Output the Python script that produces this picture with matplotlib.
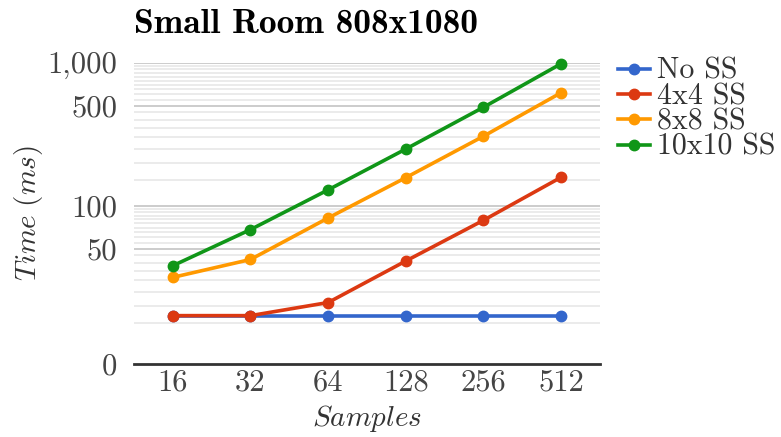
import matplotlib
matplotlib.use("Agg")
import matplotlib.pyplot as plt
from matplotlib.ticker import FixedLocator, FixedFormatter, NullFormatter

plt.rcParams['mathtext.fontset'] = 'cm'
plt.rcParams['font.family'] = ['cmr10', 'DejaVu Sans']
plt.rcParams['axes.formatter.use_mathtext'] = True

categories = ["16", "32", "64", "128", "256", "512"]
series_names = ["No SS", "4x4 SS", "8x8 SS", "10x10 SS"]
no_ss = [17, 17, 17, 17, 17, 17]
ss_4x4 = [17, 17, 21, 41, 79, 158]
ss_8x8 = [31.5, 42, 82, 157, 306, 617]
ss_10x10 = [38, 68, 129, 249, 488, 984]
colors = ["#3366cc", "#dc3912", "#ff9900", "#109618"]

y_bottom = 7.8
y_top = 1000
major_ticks = [50, 100, 500, 1000]
major_labels = ["50", "100", "500", "1,000"]
minor_ticks = ([15, 20, 25, 30, 35, 40, 45] + list(range(55, 100, 5))
               + list(range(150, 500, 50)) + list(range(550, 1000, 50)))

fig = plt.figure(figsize=(7.81, 4.37), dpi=100)
ax = fig.add_axes([134/781, 1 - 364/437, (600-134)/781, (364-62.7)/437])

x = list(range(len(categories)))
for vals, name, c in zip([no_ss, ss_4x4, ss_8x8, ss_10x10], series_names, colors):
    ax.plot(x, vals, color=c, lw=2.6, marker='o', ms=7.5, label=name,
            clip_on=False, zorder=3)

ax.set_yscale('log')
ax.set_ylim(y_bottom, y_top)
ax.set_xlim(-0.5, len(categories) - 0.5)

ax.yaxis.set_major_locator(FixedLocator([y_bottom] + major_ticks))
ax.yaxis.set_major_formatter(FixedFormatter(["0"] + major_labels))
ax.yaxis.set_minor_locator(FixedLocator(minor_ticks))
ax.yaxis.set_minor_formatter(NullFormatter())

ax.set_xticks(x)
ax.set_xticklabels(categories)

for t in major_ticks:
    ax.axhline(t, color="#cccccc", lw=1.4, zorder=1)
for t in minor_ticks:
    ax.axhline(t, color="#ebebeb", lw=1.4, zorder=0.9)

for s in ['left', 'right', 'top']:
    ax.spines[s].set_visible(False)
ax.spines['bottom'].set_color('#333333')
ax.spines['bottom'].set_linewidth(2)
ax.tick_params(axis='both', which='both', length=0, colors='#444444', labelsize=22)
ax.tick_params(axis='y', pad=12)
ax.tick_params(axis='x', pad=4)

ax.set_title("Small Room 808x1080", family='cmb10', fontsize=25.5, loc='left',
             x=0.0, y=1.07, color='#000000')
ax.set_ylabel(r"$Time\ (ms)$", fontsize=21, color='#333333', labelpad=2)
ax.set_xlabel(r"$Samples$", fontsize=21, color='#333333', labelpad=4)

leg = ax.legend(loc='upper left', bbox_to_anchor=(1.0386, 1.017), frameon=False,
                fontsize=21.5, handlelength=1.07, handletextpad=0.23,
                labelspacing=-0.07, borderaxespad=0, borderpad=0)
for t in leg.get_texts():
    t.set_color('#333333')

fig.savefig("out.png", dpi=100)
